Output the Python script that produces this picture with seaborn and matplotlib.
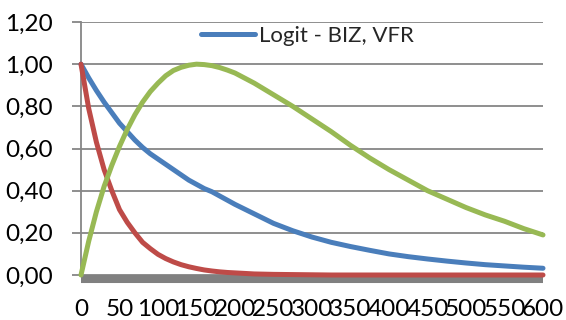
import matplotlib
matplotlib.use("Agg")
import matplotlib.pyplot as plt
import seaborn as sns
import pandas as pd
from matplotlib.lines import Line2D

# Sample positions along the horizontal axis
x_vals = [0, 10, 20, 30, 40, 50, 60, 70, 80, 90, 100, 110, 120, 130, 140, 150,
          160, 170, 180, 190, 200, 225, 250, 275, 300, 325, 350, 375, 400,
          425, 450, 475, 500, 525, 550, 575, 600]

# Series values
blue_vals = [1.00, 0.935, 0.875, 0.82, 0.77, 0.72, 0.68, 0.64, 0.605, 0.575,
             0.55, 0.525, 0.50, 0.475, 0.45, 0.43, 0.41, 0.395, 0.375, 0.355,
             0.335, 0.29, 0.245, 0.21, 0.18, 0.155, 0.135, 0.117, 0.10,
             0.087, 0.076, 0.066, 0.057, 0.049, 0.043, 0.037, 0.032]
red_vals = [1.00, 0.79, 0.63, 0.50, 0.40, 0.31, 0.25, 0.20, 0.155, 0.125,
            0.098, 0.078, 0.062, 0.049, 0.039, 0.031, 0.024, 0.019, 0.015, 0.012,
            0.010, 0.005, 0.003, 0.002, 0.001, 0.0, 0.0, 0.0, 0.0,
            0.0, 0.0, 0.0, 0.0, 0.0, 0.0, 0.0, 0.0]
green_vals = [0.00, 0.16, 0.30, 0.42, 0.52, 0.61, 0.69, 0.76, 0.82, 0.87,
              0.91, 0.945, 0.97, 0.985, 0.995, 1.00, 0.998, 0.993, 0.984, 0.972,
              0.958, 0.91, 0.855, 0.80, 0.74, 0.68, 0.615, 0.555, 0.50,
              0.45, 0.40, 0.36, 0.32, 0.285, 0.255, 0.22, 0.19]

legend_label = "Logit - BIZ, VFR"
x_ticks = list(range(0, 601, 50))
y_ticks = [0.0, 0.2, 0.4, 0.6, 0.8, 1.0, 1.2]
y_tick_labels = ["0,00", "0,20", "0,40", "0,60", "0,80", "1,00", "1,20"]

df = pd.DataFrame({"x": x_vals, "blue": blue_vals, "red": red_vals, "green": green_vals})

sns.set_style("white")
plt.rcParams["font.family"] = ["Lato", "DejaVu Sans"]

fig = plt.figure(figsize=(5.66, 3.2), dpi=100)
ax = fig.add_axes([81 / 566, 1 - 275 / 320, (543 - 81) / 566, (275 - 22) / 320])

grid_col = "#868686"
lw = 3.6
fs = 17.5
colors = {"blue": "#4A7EBB", "red": "#BE4B48", "green": "#98B954"}
for key in ["blue", "red", "green"]:
    sns.lineplot(data=df, x="x", y=key, ax=ax, color=colors[key], linewidth=lw,
                 legend=False, zorder=4, clip_on=False,
                 solid_capstyle="round", solid_joinstyle="round")

ax.set_xlim(0, 600)
ax.set_ylim(0, 1.2)
ax.set_yticks(y_ticks)
ax.set_yticklabels(y_tick_labels)
ax.set_xticks(x_ticks)
ax.set_xticklabels([str(t) for t in x_ticks])
ax.set_xlabel("")
ax.set_ylabel("")

ax.yaxis.grid(True, color=grid_col, linewidth=1.3)
ax.xaxis.grid(False)
ax.set_axisbelow(True)

for s in ["top", "right"]:
    ax.spines[s].set_visible(False)
ax.spines["left"].set_color(grid_col)
ax.spines["left"].set_linewidth(1.3)
ax.spines["bottom"].set_color("#808080")
ax.spines["bottom"].set_linewidth(5.8)
ax.spines["bottom"].set_position(("outward", 2.9))
ax.spines["bottom"].set_capstyle("butt")

ax.tick_params(axis="y", which="major", left=True, length=6.5, width=1.3,
               color=grid_col, pad=13.5, labelsize=fs, labelcolor="black")
ax.tick_params(axis="x", which="major", bottom=False, length=0, pad=14.5,
               labelsize=fs, labelcolor="black")

handle = Line2D([0], [0], color=colors["blue"], linewidth=lw, solid_capstyle="round")
leg = fig.legend([handle], [legend_label], loc="center left",
                 bbox_to_anchor=(201 / 566, 1 - 36 / 320), frameon=False,
                 fontsize=16, handlelength=2.45, handletextpad=0.15,
                 borderpad=0, borderaxespad=0)

fig.savefig("out.png", dpi=100)
